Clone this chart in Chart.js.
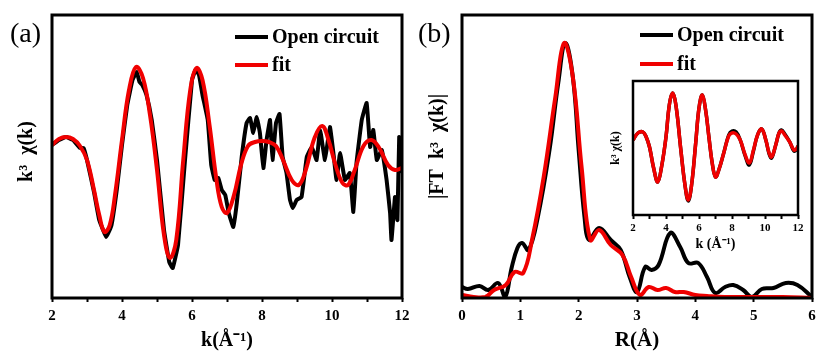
<!DOCTYPE html>
<html>
<head>
<meta charset="utf-8">
<script src="https://cdn.jsdelivr.net/npm/chart.js@4.4.1/dist/chart.umd.min.js"></script>
<style>
  body { margin: 0; background: #fff; }
  .panel { position: absolute; }
  canvas { display: block; }
</style>
</head>
<body>
<div class="panel" style="left:0;top:0"><canvas id="chartA" width="410" height="360"></canvas></div>
<div class="panel" style="left:410px;top:0"><canvas id="chartB" width="406" height="360"></canvas></div>
<div class="panel" style="left:600px;top:75px"><canvas id="chartInset" width="205" height="180"></canvas></div>
<script>
// (a) k-space, fit and measured
const kFitA = [2.0, 2.2, 2.4, 2.6, 2.8, 3.0, 3.2, 3.35, 3.5, 3.65, 3.8, 4.0, 4.2, 4.4, 4.6, 4.8, 5.0, 5.2, 5.37, 5.55, 5.75, 5.95, 6.13, 6.3, 6.5, 6.7, 6.85, 7.0, 7.2, 7.4, 7.6, 7.8, 8.0, 8.2, 8.4, 8.6, 8.85, 9.05, 9.25, 9.5, 9.72, 9.9, 10.1, 10.3, 10.46, 10.65, 10.9, 11.13, 11.35, 11.6, 11.8, 12.0];
const fitA = [1.0, 1.6, 1.8, 1.6, 0.9, -0.5, -3.5, -6.0, -7.7, -7.0, -4.0, 1.5, 6.5, 8.8, 7.7, 4.0, -1.5, -8.0, -10.3, -8.5, -0.5, 6.5, 8.7, 7.5, 3.0, -2.5, -5.2, -5.8, -4.0, -1.0, 0.9, 1.3, 1.4, 1.3, 0.9, -0.5, -2.5, -3.0, -1.5, 1.7, 2.9, 1.5, -1.0, -2.8, -3.0, -1.5, 0.9, 1.5, 0.7, -1.0, -1.5, -1.3];
const kRawA = [2.0, 2.2, 2.4, 2.6, 2.8, 2.9, 3.0, 3.2, 3.35, 3.55, 3.7, 3.85, 4.0, 4.15, 4.3, 4.42, 4.5, 4.58, 4.7, 4.85, 5.0, 5.2, 5.35, 5.45, 5.6, 5.8, 6.0, 6.1, 6.2, 6.3, 6.45, 6.55, 6.65, 6.75, 6.85, 6.95, 7.05, 7.18, 7.28, 7.42, 7.56, 7.66, 7.75, 7.85, 7.94, 8.04, 8.13, 8.23, 8.30, 8.40, 8.50, 8.59, 8.70, 8.80, 8.88, 8.99, 9.13, 9.28, 9.42, 9.56, 9.66, 9.80, 9.94, 10.04, 10.13, 10.23, 10.37, 10.51, 10.61, 10.70, 10.85, 10.99, 11.09, 11.18, 11.28, 11.42, 11.56, 11.66, 11.70, 11.80, 11.87, 11.92, 12.0];
const rawA = [1.0, 1.5, 1.8, 1.5, 0.7, 0.7, -0.5, -3.7, -6.5, -8.2, -7.0, -3.5, 1.0, 5.0, 7.5, 8.3, 7.3, 7.0, 6.0, 3.5, -0.5, -7.5, -10.7, -11.3, -9.0, -0.5, 7.5, 8.5, 8.0, 6.0, 3.5, -1.0, -2.5, -2.3, -3.5, -4.0, -5.8, -7.2, -4.8, -0.2, 3.2, 3.7, 2.2, 3.8, 2.2, -1.3, 1.5, 3.5, -0.5, 3.2, 4.1, -0.2, -1.8, -4.5, -5.3, -4.5, -4.2, -0.2, 0.8, -0.5, 2.5, -0.5, 2.8, 0.2, -2.5, 0.2, -2.5, -1.8, -5.7, -0.8, 3.5, 5.2, 0.8, 2.5, -0.5, 0.5, -2.5, -5.8, -8.5, -4.2, -6.5, 1.8, -1.8];

// (b) R-space magnitude
const rFit = [0, 0.2, 0.4, 0.55, 0.75, 0.9, 1.05, 1.2, 1.4, 1.6, 1.75, 1.9, 2.05, 2.2, 2.35, 2.55, 2.75, 2.9, 3.05, 3.2, 3.35, 3.5, 3.65, 3.8, 4.0, 4.2, 4.5, 5.0, 5.5, 6.0];
const fitB = [0.3, 0.1, 0.1, 0.8, 1.3, 2.6, 2.5, 5.8, 12.1, 20.1, 25.5, 22.1, 13.1, 5.8, 6.8, 5.3, 4.3, 2.1, 0.3, 1.1, 0.8, 1.0, 0.6, 0.6, 0.3, 0.2, 0.1, 0.1, 0.1, 0.0];
const rRaw = [0, 0.1, 0.3, 0.45, 0.62, 0.74, 0.85, 0.95, 1.03, 1.14, 1.3, 1.5, 1.65, 1.77, 1.9, 2.0, 2.1, 2.18, 2.35, 2.55, 2.72, 2.88, 3.0, 3.14, 3.25, 3.37, 3.57, 3.74, 3.88, 4.05, 4.2, 4.34, 4.51, 4.65, 4.82, 4.97, 5.14, 5.34, 5.55, 5.75, 6.0];
const rawB = [1.1, 0.9, 1.2, 0.8, 1.5, 0.1, 3.0, 5.0, 5.5, 4.8, 8.1, 14.8, 21.5, 25.5, 22.1, 14.8, 8.1, 5.8, 7.0, 5.8, 4.8, 2.0, 0.6, 3.1, 2.8, 3.3, 6.5, 5.1, 3.5, 3.5, 2.1, 0.5, 1.1, 1.3, 0.8, 0.1, 0.9, 1.0, 1.5, 1.3, 0.1];

// inset: back-transformed k-space
const kIn = [2.0, 2.3, 2.6, 2.8, 3.0, 3.25, 3.5, 3.75, 4.0, 4.2, 4.4, 4.6, 4.9, 5.15, 5.35, 5.55, 5.8, 6.0, 6.2, 6.4, 6.6, 6.8, 7.0, 7.2, 7.5, 7.8, 8.0, 8.25, 8.5, 8.8, 9.05, 9.3, 9.55, 9.8, 10.05, 10.25, 10.4, 10.65, 10.85, 11.0, 11.2, 11.5, 11.75, 11.9, 12.0];
const fitIn = [0.8, 1.5, 1.6, 1.1, 0.1, -2.0, -3.4, -1.7, 1.1, 4.3, 5.5, 4.3, -0.2, -3.7, -5.2, -3.7, 0.5, 4.0, 5.3, 3.8, 1.1, -1.5, -2.9, -2.2, -0.5, 1.2, 1.5, 1.4, 0.8, -0.7, -1.5, -0.2, 1.3, 1.9, 0.8, -0.5, -0.9, 0.3, 1.5, 1.7, 1.3, 0.6, -0.2, -0.1, 0.2];
const rawIn = [0.8, 1.5, 1.6, 1.1, 0.1, -2.0, -3.4, -1.7, 1.1, 4.3, 5.5, 4.3, -0.2, -3.7, -5.3, -3.7, 0.5, 4.0, 5.3, 3.8, 1.1, -1.5, -2.9, -2.2, -0.5, 1.3, 1.7, 1.6, 0.8, -0.8, -1.7, -0.3, 1.3, 1.9, 0.8, -0.6, -1.0, 0.3, 1.5, 1.8, 1.4, 0.6, -0.3, -0.2, 0.2];

const kTickLabels = [2, 4, 6, 8, 10, 12];
const rTickLabels = [0, 1, 2, 3, 4, 5, 6];

const SERIF = "'Liberation Serif', 'Times New Roman', serif";
const RED = "rgb(240, 0, 0)";

const pts = (xs, ys) => xs.map((x, i) => ({ x, y: ys[i] }));

function lineSet(label, xs, ys, color, width, tension) {
  return {
    label,
    data: pts(xs, ys),
    borderColor: color,
    backgroundColor: color,
    borderWidth: width,
    pointRadius: 0,
    tension,
    fill: false,
  };
}

// thick box round the plot area
const framePlugin = {
  id: "frame",
  afterDraw(chart, args, opts) {
    const { ctx, chartArea: a } = chart;
    ctx.save();
    ctx.lineWidth = opts.width || 3;
    ctx.strokeStyle = "#000";
    ctx.strokeRect(a.left, a.top, a.right - a.left, a.bottom - a.top);
    ctx.restore();
  },
};

// legend drawn inside the plot, measured line first
const insideLegend = {
  id: "insideLegend",
  afterDraw(chart, args, opts) {
    if (opts.x === undefined) return;
    const ctx = chart.ctx;
    const sets = chart.data.datasets.slice().reverse();
    ctx.save();
    ctx.font = "bold " + opts.size + "px " + SERIF;
    ctx.textBaseline = "middle";
    sets.forEach((ds, i) => {
      const y = opts.y + i * opts.gap;
      ctx.strokeStyle = ds.borderColor;
      ctx.lineWidth = 4;
      ctx.beginPath();
      ctx.moveTo(opts.x, y);
      ctx.lineTo(opts.x + opts.len, y);
      ctx.stroke();
      ctx.fillStyle = "#000";
      ctx.fillText(ds.label, opts.x + opts.len + 4, y + 1);
    });
    ctx.restore();
  },
};

const panelTag = {
  id: "panelTag",
  afterDraw(chart, args, opts) {
    if (!opts.text) return;
    const ctx = chart.ctx;
    ctx.save();
    ctx.font = "28px " + SERIF;
    ctx.fillStyle = "#000";
    ctx.textBaseline = "alphabetic";
    ctx.fillText(opts.text, opts.x, opts.y);
    ctx.restore();
  },
};

Chart.register(framePlugin, insideLegend, panelTag);

function makeOptions(cfg) {
  return {
    responsive: false,
    animation: false,
    devicePixelRatio: 1,
    layout: { padding: cfg.padding },
    plugins: {
      legend: { display: false },
      tooltip: { enabled: false },
      frame: { width: cfg.frame },
      insideLegend: cfg.legend || false,
      panelTag: cfg.tag || false,
    },
    scales: {
      x: {
        type: "linear",
        min: cfg.xMin,
        max: cfg.xMax,
        afterFit: (s) => {
          s.height = cfg.xHeight;
          // end labels may hang past the plot edge
          s.paddingLeft = 0;
          s.paddingRight = 0;
        },
        grid: { display: true, drawOnChartArea: false, drawTicks: true, tickLength: 4, tickWidth: 2, tickColor: "#000" },
        border: { display: false },
        ticks: {
          stepSize: 1,
          autoSkip: false,
          maxRotation: 0,
          color: "#000",
          padding: cfg.tickPad,
          font: { family: SERIF, size: cfg.tickSize, weight: "bold" },
          callback: (v) => (cfg.tickLabels.includes(v) ? v : ""),
        },
        title: {
          display: true,
          text: cfg.xTitle,
          color: "#000",
          font: { family: SERIF, size: cfg.xTitleSize, weight: "bold" },
          padding: { top: 0, bottom: cfg.xTitlePad },
        },
      },
      y: {
        min: cfg.yMin,
        max: cfg.yMax,
        afterFit: (s) => { s.width = cfg.yWidth; },
        grid: { display: false },
        border: { display: false },
        ticks: { display: false },
        title: {
          display: true,
          text: cfg.yTitle,
          color: "#000",
          font: { family: SERIF, size: cfg.yTitleSize, weight: "bold" },
          padding: { top: cfg.yTitlePad, bottom: 0 },
        },
      },
    },
  };
}

new Chart(document.getElementById("chartA").getContext("2d"), {
  type: "line",
  data: {
    datasets: [
      lineSet("fit", kFitA, fitA, RED, 4, 0.4),
      lineSet("Open circuit", kRawA, rawA, "#000", 4, 0.1),
    ],
  },
  options: makeOptions({
    padding: { left: 0, top: 15, right: 8, bottom: 0 },
    frame: 3,
    legend: { x: 235, y: 37, gap: 28, len: 33, size: 20 },
    tag: { text: "(a)", x: 10, y: 42 },
    xMin: 2, xMax: 12, xHeight: 62, tickSize: 15, tickPad: 5, tickLabels: kTickLabels,
    xTitle: "k(Å⁻¹)", xTitleSize: 20, xTitlePad: 7,
    yMin: -14.3, yMax: 14.0, yWidth: 52,
    yTitle: "  k³  χ(k)", yTitleSize: 20, yTitlePad: 15,
  }),
});

new Chart(document.getElementById("chartB").getContext("2d"), {
  type: "line",
  data: {
    datasets: [
      lineSet("fit", rFit, fitB, RED, 4, 0.4),
      lineSet("Open circuit", rRaw, rawB, "#000", 4, 0.4),
    ],
  },
  options: makeOptions({
    padding: { left: 0, top: 15, right: 4, bottom: 0 },
    frame: 3,
    legend: { x: 230, y: 35, gap: 29, len: 33, size: 20 },
    tag: { text: "(b)", x: 8, y: 42 },
    xMin: 0, xMax: 6, xHeight: 62, tickSize: 15, tickPad: 5, tickLabels: rTickLabels,
    xTitle: "R(Å)", xTitleSize: 21, xTitlePad: 7,
    yMin: 0, yMax: 28.3, yWidth: 52,
    yTitle: "    |FT  k³  χ(k)|", yTitleSize: 20, yTitlePad: 16,
  }),
});

new Chart(document.getElementById("chartInset").getContext("2d"), {
  type: "line",
  data: {
    datasets: [
      lineSet("fit", kIn, fitIn, RED, 3.5, 0.4),
      lineSet("Open circuit", kIn, rawIn, "#000", 3.5, 0.4),
    ],
  },
  options: makeOptions({
    padding: { left: 0, top: 6, right: 7, bottom: 0 },
    frame: 2.5,
    xMin: 2, xMax: 12, xHeight: 40, tickSize: 11, tickPad: 3, tickLabels: kTickLabels,
    xTitle: "k (Å⁻¹)", xTitleSize: 14, xTitlePad: 2,
    yMin: -6.7, yMax: 6.7, yWidth: 33,
    yTitle: "k³ χ(k)", yTitleSize: 12, yTitlePad: 9,
  }),
});
</script>
</body>
</html>
